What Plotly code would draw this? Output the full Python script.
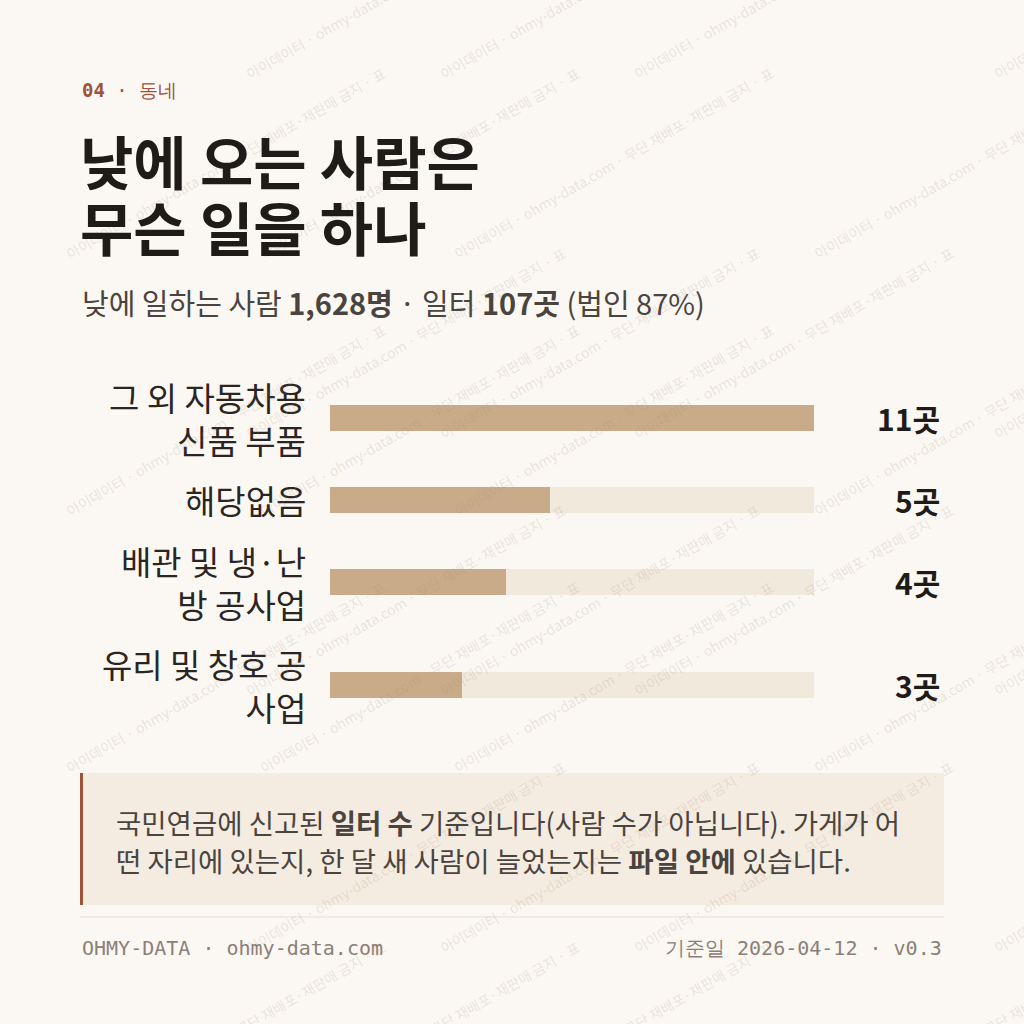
import plotly.graph_objects as go

categories = ["그 외 자동차용<br>신품 부품", "해당없음", "배관 및 냉·난<br>방 공사업", "유리 및 창호 공<br>사업"]
values = [11, 5, 4, 3]
value_labels = ["11곳", "5곳", "4곳", "3곳"]
row_y = [418, 500, 582, 685]  # row centres in page pixels

W = H = 1024
BG = "#fbf8f3"
BAR = "#c9ab8a"
TRACK = "#f2e9dd"
FONT = "Noto Sans CJK KR, Noto Sans, sans-serif"
MONO = "DejaVu Sans Mono, monospace"
vmax = max(values)


def px(x):
    return x / W


def py(y):
    return 1 - y / H


fig = go.Figure()
fig.add_trace(go.Bar(x=[vmax] * len(values), y=row_y, orientation="h", width=26,
                     marker=dict(color=TRACK, line=dict(width=0)), hoverinfo="skip"))
fig.add_trace(go.Bar(x=values, y=row_y, orientation="h", width=26,
                     marker=dict(color=BAR, line=dict(width=0)), hoverinfo="skip"))

ann = []
for cat, yv, lab in zip(categories, row_y, value_labels):
    ann.append(dict(x=px(308), y=yv, xref="paper", yref="y", text=cat, showarrow=False,
                    xanchor="right", yanchor="middle", align="right",
                    font=dict(family=FONT, size=33, color="#2a2522")))
    ann.append(dict(x=px(942), y=yv, xref="paper", yref="y", text=f"<b>{lab}</b>", showarrow=False,
                    xanchor="right", yanchor="middle", font=dict(family=FONT, size=30, color="#1f1b18")))

# watermark
wm = "아이데이터 · ohmy-data.com · 무단 재배포·재판매 금지 · 표"
for cx in [-120, 240, 600, 960]:
    for cy in [60, 420, 780, 1140]:
        for dx, dy in [(0, 0), (180, -180)]:
            ann.append(dict(x=px(cx + dx + 180), y=py(cy + dy), xref="paper", yref="paper", text=wm,
                            showarrow=False, textangle=-30,
                            font=dict(family=FONT, size=14, color="rgba(160,140,120,0.2)")))

ann += [
    dict(x=px(80), y=py(90), text="<b>04</b> · 동네", font=dict(family=MONO, size=19, color="#a0523a")),
    dict(x=px(78), y=py(160), text="<b>낮에 오는 사람은</b>", font=dict(family=FONT, size=58, color="#1f1b18")),
    dict(x=px(78), y=py(226), text="<b>무슨 일을 하나</b>", font=dict(family=FONT, size=58, color="#1f1b18")),
    dict(x=px(80), y=py(302), text="낮에 일하는 사람 <b>1,628명</b> · 일터 <b>107곳</b> (법인 87%)",
         font=dict(family=FONT, size=29, color="#4a4440")),
    dict(x=px(114), y=py(822), text="국민연금에 신고된 <b>일터 수</b> 기준입니다(사람 수가 아닙니다). 가게가 어",
         font=dict(family=FONT, size=27.5, color="#4a4440")),
    dict(x=px(114), y=py(860), text="떤 자리에 있는지, 한 달 새 사람이 늘었는지는 <b>파일 안에</b> 있습니다.",
         font=dict(family=FONT, size=27.5, color="#4a4440")),
    dict(x=px(80), y=py(948), text="OHMY-DATA · ohmy-data.com", font=dict(family=MONO, size=20, color="#8a8078")),
    dict(x=px(944), y=py(948), text="기준일 2026-04-12 · v0.3", xanchor="right",
         font=dict(family=MONO, size=20, color="#8a8078")),
]
for a in ann[-8:]:
    a.setdefault("xref", "paper")
    a.setdefault("yref", "paper")
    a.setdefault("showarrow", False)
    a.setdefault("xanchor", "left")
    a["yanchor"] = "middle"

shapes = [
    dict(type="rect", xref="paper", yref="paper", x0=px(80), x1=px(944), y0=py(905), y1=py(773),
         fillcolor="#f5ece1", line=dict(width=0), layer="below"),
    dict(type="rect", xref="paper", yref="paper", x0=px(80), x1=px(83), y0=py(905), y1=py(773),
         fillcolor="#a0523a", line=dict(width=0)),
    dict(type="line", xref="paper", yref="paper", x0=px(80), x1=px(944), y0=py(917), y1=py(917),
         line=dict(color="#e6ded3", width=1)),
]

fig.update_layout(
    width=W, height=H, margin=dict(l=0, r=0, t=0, b=0),
    paper_bgcolor=BG, plot_bgcolor="rgba(0,0,0,0)",
    barmode="overlay", showlegend=False,
    xaxis=dict(domain=[px(330), px(814)], range=[0, vmax], visible=False, fixedrange=True),
    yaxis=dict(domain=[0, 1], range=[H, 0], visible=False, fixedrange=True),
    annotations=ann, shapes=shapes,
)
fig.write_html("out.html", config={"displayModeBar": False},
               post_script="document.body.style.margin='0';")
